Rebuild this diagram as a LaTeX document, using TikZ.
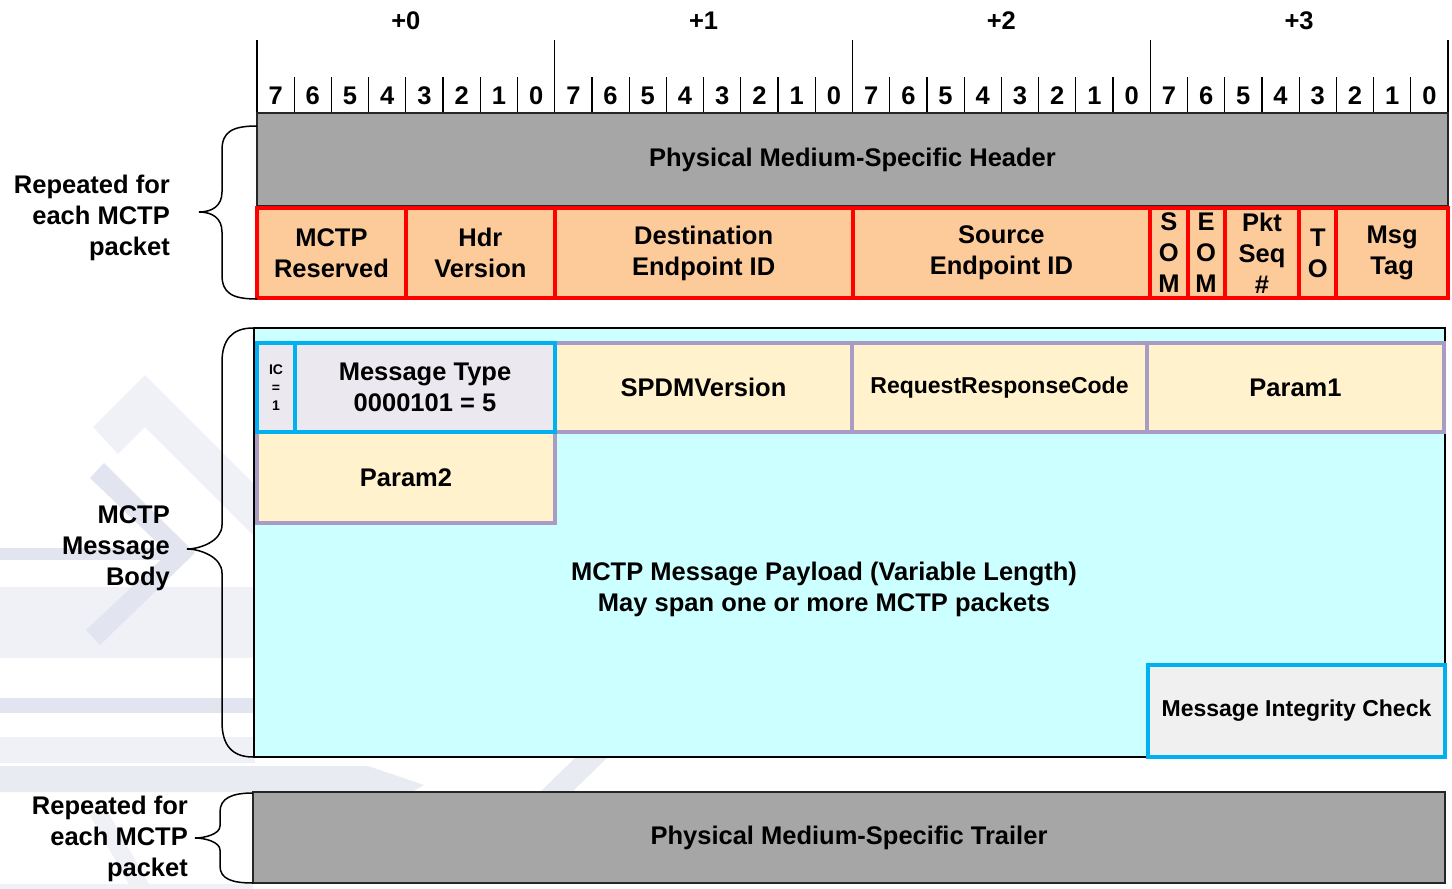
\documentclass[tikz,border=0pt]{standalone}
\usepackage{fontspec}
\setmainfont{Liberation Sans}
\definecolor{hdrgray}{HTML}{A6A6A6}
\definecolor{peach}{HTML}{FDCA99}
\definecolor{bodycyan}{HTML}{CCFFFF}
\definecolor{lavfill}{HTML}{EBE8F0}
\definecolor{blueline}{HTML}{00B0F0}
\definecolor{yelfill}{HTML}{FFF2CC}
\definecolor{purpline}{HTML}{A99CC4}
\definecolor{micfill}{HTML}{F0F0F0}
\definecolor{wmlight}{HTML}{EFF1F6}
\definecolor{wmmid}{HTML}{E9EBF3}
\definecolor{wmdark}{HTML}{E2E5EF}
\newcommand\fieldnode[7]{%
  \pgfmathsetmacro\fldw{#5-#3}\pgfmathsetmacro\fldh{#6-#4}%
  \node[#2, minimum width=\fldw pt, minimum height=\fldh pt, inner sep=0pt,
        outer sep=0pt, anchor=north west, align=center] (#1) at (#3,#4) {#7};}
\begin{document}
\begin{tikzpicture}[x=1pt,y=-1pt,
  lbl/.style={font=\fontsize{25.5}{31}\selectfont\bfseries, inner sep=0pt},
  graybox/.style={lbl, draw=black!85, line width=1.5pt, fill=hdrgray},
  redcell/.style={lbl, draw=red, line width=4pt, fill=peach},
  bodybox/.style={lbl, draw=black, line width=1.5pt, fill=bodycyan},
  yelcell/.style={lbl, draw=purpline, line width=4pt, fill=yelfill},
  bluecell/.style={lbl, draw=blueline, line width=4.5pt, fill=lavfill},
  icbox/.style={bluecell, font=\fontsize{14}{18}\selectfont\bfseries},
  micbox/.style={lbl, draw=blueline, line width=4.5pt, fill=micfill,
                 font=\fontsize{23}{28}\selectfont\bfseries},
  rule/.style={draw=black, line width=1.2pt},
  brace/.style={draw=black, line width=1.5pt}]
\path[use as bounding box] (0,0) rectangle (1452,889);

% faint watermark
\begin{scope}
  \fill[wmlight] (93,427) -- (145,375) -- (255,485) -- (255,537) -- (145,427) -- (118,454) -- cycle;
  \fill[wmlight] (0,587) rectangle (255,658);
  \fill[wmdark] (104,463) -- (195,553) -- (100,645) -- (86,630) -- (168,553) -- (90,478) -- cycle;
  \fill[wmdark] (0,548) rectangle (176,560);
  \fill[wmdark] (0,698) rectangle (255,713);
  \fill[wmlight] (0,737) rectangle (255,763);
  \fill[wmmid] (0,766) -- (368,766) -- (424,785) -- (412,792) -- (0,792) -- cycle;
  \fill[wmmid] (540,792) -- (572,792) -- (608,757) -- (576,757) -- cycle;
  \fill[wmlight] (88,812) -- (108,812) -- (150,886) -- (130,886) -- cycle;
  \fill[wmlight] (0,884) rectangle (253,889);
\end{scope}

% bit ruler
\foreach \i in {0,...,31}{
  \pgfmathsetmacro\bx{257+(\i+0.5)*37.219}
  \pgfmathtruncatemacro\bn{7-mod(\i,8)}
  \node[lbl, anchor=base] (bit\i) at (\bx,104) {\bn};
}
\foreach \i in {1,...,31}{
  \pgfmathsetmacro\bx{257+\i*37.219}
  \draw[rule] (\bx,77) -- (\bx,113);
}
\foreach \i in {0,8,16,24,32}{
  \pgfmathsetmacro\bx{257+\i*37.219}
  \draw[rule] (\bx,40) -- (\bx,113);
}
\foreach \k in {0,1,2,3}{
  \node[lbl, anchor=base] (byte\k) at ({257+(\k*8+4)*37.219},29) {+\k};
}

% MCTP header
\fieldnode{pmh}{graybox}{257}{113}{1448}{206}{Physical Medium-Specific Header}
\fieldnode{rsv}{redcell}{257}{208}{405.9}{298}{MCTP\\Reserved}
\fieldnode{hdr}{redcell}{405.9}{208}{554.8}{298}{Hdr\\Version}
\fieldnode{dst}{redcell}{554.8}{208}{852.5}{298}{Destination\\Endpoint ID}
\fieldnode{src}{redcell}{852.5}{208}{1150.3}{298}{Source\\Endpoint ID}
\fieldnode{som}{redcell}{1150.3}{208}{1187.5}{298}{S\\O\\M}
\fieldnode{eom}{redcell}{1187.5}{208}{1224.7}{298}{E\\O\\M}
\fieldnode{seq}{redcell}{1224.7}{208}{1299.2}{298}{Pkt\\Seq\\\#}
\fieldnode{to}{redcell}{1299.2}{208}{1336.4}{298}{T\\O}
\fieldnode{tag}{redcell}{1336.4}{208}{1448}{298}{Msg\\Tag}

% message body
\fieldnode{body}{bodybox}{254}{328}{1445}{757}{}
\node[lbl, align=center] (payload) at (824,589)
  {MCTP Message Payload (Variable Length)\\May span one or more MCTP packets};
\fieldnode{spdm}{yelcell}{555}{343}{852}{432}{SPDMVersion}
\fieldnode{rrc}{yelcell, font=\fontsize{23}{28}\selectfont\bfseries}{852}{343}{1147}{432}{RequestResponseCode}
\fieldnode{p1}{yelcell}{1147}{343}{1444}{432}{Param1}
\fieldnode{p2}{yelcell}{257}{432}{555}{523}{Param2}
\fieldnode{mt}{bluecell}{295}{343}{555}{432}{Message Type\\0000101 = 5}
\fieldnode{ic}{icbox}{257}{343}{295}{432}{IC\\=\\1}
\fieldnode{mic}{micbox}{1148}{665}{1445}{757}{Message Integrity Check}

% trailer
\fieldnode{pmt}{graybox}{253}{792}{1445}{883}{Physical Medium-Specific Trailer}

% side labels
\node[lbl, align=right, anchor=east] (rep1) at (170,218) {Repeated for\\each MCTP\\packet};
\node[lbl, align=right, anchor=east] (mmb) at (170,548) {MCTP\\Message\\Body};
\node[lbl, align=right, anchor=east] (rep2) at (188,839) {Repeated for\\each MCTP\\packet};

% braces
\draw[brace] (257,126) .. controls (232,126) and (222,132) .. (222,150) -- (222,192)
  .. controls (222,206) and (212,212) .. (199,212)
  .. controls (212,212) and (222,218) .. (222,232) -- (222,275)
  .. controls (222,293) and (232,299) .. (257,299);
\draw[brace] (253,328) .. controls (232,328) and (222,340) .. (222,362) -- (222,525)
  .. controls (222,541) and (200,549) .. (187,549)
  .. controls (200,549) and (222,557) .. (222,573) -- (222,722)
  .. controls (222,745) and (232,757) .. (253,757);
\draw[brace] (253,793) .. controls (232,793) and (220,798) .. (220,812) -- (220,826)
  .. controls (220,834) and (205,838) .. (195,838)
  .. controls (205,838) and (220,842) .. (220,850) -- (220,866)
  .. controls (220,879) and (232,883) .. (253,883);
\end{tikzpicture}
\end{document}
